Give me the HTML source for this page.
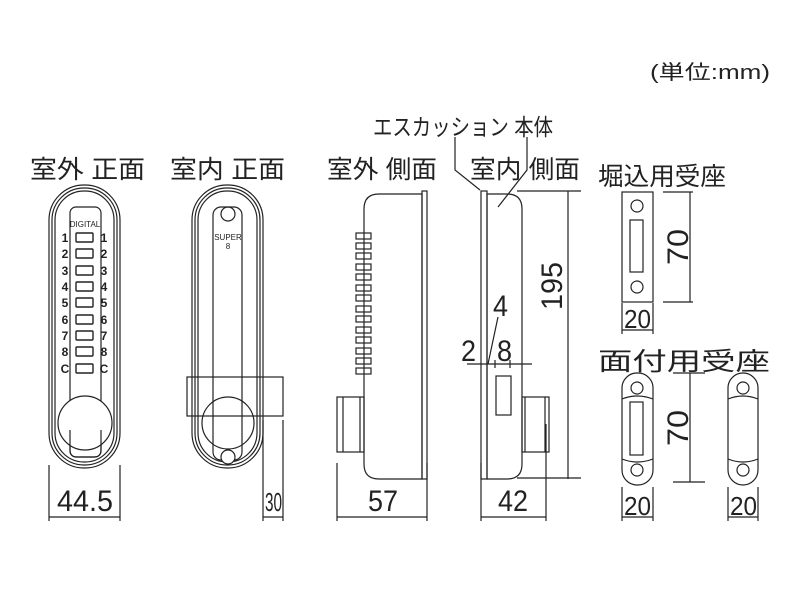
<!DOCTYPE html>
<html><head><meta charset="utf-8"><style>html,body{margin:0;padding:0;background:#fff}svg{display:block}</style></head><body>
<svg width="800" height="600" viewBox="0 0 800 600" xmlns="http://www.w3.org/2000/svg" font-family="'Liberation Sans','Noto Sans CJK JP',sans-serif">
<g fill="none" stroke="#222" stroke-width="1.2">
<!-- exterior front -->
<rect x="49" y="185" width="71" height="283" rx="35"/>
<rect x="52" y="188" width="65" height="277" rx="32"/>
<rect x="55" y="191" width="59" height="271" rx="29"/>
<rect x="70" y="207" width="31" height="250" rx="6"/>
<g stroke-width="1.4">
<rect x="76" y="233" width="17" height="9" rx="1"/><rect x="76" y="249" width="17" height="9" rx="1"/><rect x="76" y="266" width="17" height="9" rx="1"/><rect x="76" y="282" width="17" height="9" rx="1"/><rect x="76" y="298" width="17" height="9" rx="1"/><rect x="76" y="315" width="17" height="9" rx="1"/><rect x="76" y="331" width="17" height="9" rx="1"/><rect x="76" y="347" width="17" height="9" rx="1"/><rect x="76" y="364" width="17" height="9" rx="1"/>
</g>
<circle cx="85" cy="423" r="27" fill="#fff"/>
<path d="M70 430 V450 Q70 457 77 457 H94 Q101 457 101 450 V430"/>
<path d="M49 465 V521 M120 465 V521 M49 517 H120"/>
<!-- interior front -->
<rect x="192" y="185" width="71" height="283" rx="35"/>
<rect x="195" y="188" width="65" height="277" rx="32"/>
<rect x="198" y="191" width="59" height="271" rx="29"/>
<rect x="213" y="207" width="29" height="253" rx="8"/>
<circle cx="228" cy="214" r="7"/>
<circle cx="228" cy="423" r="26"/>
<circle cx="228" cy="457" r="7" fill="#fff"/>
<rect x="187" y="377" width="96" height="39"/>
<path d="M263 420 V521 M283 420 V521 M263 517 H283"/>
<!-- exterior side -->
<path d="M422 194 H379 Q364 194 364 209 V464 Q364 479 379 479 H422 Z"/>
<rect x="422" y="191" width="5" height="288"/>
<g>
<rect x="356" y="233" width="15" height="6"/><rect x="356" y="243" width="15" height="6"/><rect x="356" y="253" width="15" height="6"/><rect x="356" y="264" width="15" height="6"/><rect x="356" y="274" width="15" height="6"/><rect x="356" y="285" width="15" height="6"/><rect x="356" y="295" width="15" height="6"/><rect x="356" y="306" width="15" height="6"/><rect x="356" y="316" width="15" height="6"/><rect x="356" y="327" width="15" height="6"/><rect x="356" y="337" width="15" height="6"/><rect x="356" y="348" width="15" height="6"/><rect x="356" y="358" width="15" height="6"/><rect x="356" y="368" width="15" height="6"/>
</g>
<rect x="337" y="397" width="27" height="55"/>
<path d="M343 397 V452 M360 397 V452"/>
<path d="M337 463 V521 M427 463 V521 M337 517 H427"/>
<!-- interior side -->
<rect x="481" y="191" width="6" height="288"/>
<path d="M487 194 H507 Q522 194 522 209 V464 Q522 479 507 479 H487 Z"/>
<rect x="522" y="397" width="27" height="55"/>
<path d="M525 397 V452 M545 397 V452"/>
<rect x="496" y="376" width="15" height="39"/>
<path d="M467 364 H532 M495 360 V368 M510 360 V368 M498 317 L488 364"/>
<path d="M481 463 V521 M546 424 V521 M481 517 H546"/>
<path d="M568 191 V479 M517 191 H581 M517 478 H581"/>
<path d="M455 137 V170 L480 190 M527 137 V170 L498 207"/>
<!-- plate 1 -->
<rect x="622" y="192" width="31" height="110"/>
<circle cx="637" cy="206" r="6"/><circle cx="637" cy="287" r="6"/>
<rect x="630" y="220" width="13" height="52"/>
<path d="M690 192 V302 M663 192 H693 M663 302 H693 M622 303 V334 M653 303 V334 M622 330 H653"/>
<!-- plate 2 -->
<rect x="622" y="373" width="31" height="112" rx="15"/>
<circle cx="637" cy="388" r="6"/><circle cx="637" cy="470" r="6"/>
<rect x="630" y="402" width="13" height="53"/>
<path d="M622 399 Q637 393 653 399 M622 459 Q637 465 653 459"/>
<path d="M690 373 V482 M673 373 H705 M673 482 H705 M622 487 V521 M653 487 V521 M622 517 H653"/>
<!-- plate 3 -->
<rect x="728" y="373" width="30" height="112" rx="15"/>
<circle cx="743" cy="388" r="6"/><circle cx="743" cy="470" r="6"/>
<path d="M728 399 Q743 393 758 399 M728 459 Q743 465 758 459"/>
<path d="M728 487 V521 M758 487 V521 M728 517 H758"/>
</g>
<g fill="#222">
<text x="650" y="79" font-size="20" textLength="120" lengthAdjust="spacingAndGlyphs">(単位:mm)</text>
<text x="30" y="178" font-size="25" textLength="115" lengthAdjust="spacingAndGlyphs">室外 正面</text>
<text x="170" y="178" font-size="25" textLength="115" lengthAdjust="spacingAndGlyphs">室内 正面</text>
<text x="327" y="178" font-size="25" textLength="110" lengthAdjust="spacingAndGlyphs">室外 側面</text>
<text x="470" y="178" font-size="25" textLength="110" lengthAdjust="spacingAndGlyphs">室内 側面</text>
<text x="373" y="135" font-size="23" textLength="180" lengthAdjust="spacingAndGlyphs">エスカッション 本体</text>
<text x="598" y="185" font-size="25" textLength="128" lengthAdjust="spacingAndGlyphs">堀込用受座</text>
<text x="598" y="370" font-size="25" textLength="172" lengthAdjust="spacingAndGlyphs">面付用受座</text>
<g font-size="12" font-weight="bold" text-anchor="middle">
<text x="65" y="242">1</text><text x="104" y="242">1</text>
<text x="65" y="258">2</text><text x="104" y="258">2</text>
<text x="65" y="275">3</text><text x="104" y="275">3</text>
<text x="65" y="291">4</text><text x="104" y="291">4</text>
<text x="65" y="307">5</text><text x="104" y="307">5</text>
<text x="65" y="324">6</text><text x="104" y="324">6</text>
<text x="65" y="340">7</text><text x="104" y="340">7</text>
<text x="65" y="356">8</text><text x="104" y="356">8</text>
<text x="65" y="373">C</text><text x="104" y="373">C</text>
</g>
<text x="85" y="227" font-size="8" text-anchor="middle">DIGITAL</text>
<text x="228" y="240" font-size="8" text-anchor="middle">SUPER</text>
<text x="228" y="249" font-size="8" text-anchor="middle">8</text>
<g font-size="30">
<text x="57" y="511" textLength="56" lengthAdjust="spacingAndGlyphs">44.5</text>
<text x="265" y="511" font-size="26" textLength="17" lengthAdjust="spacingAndGlyphs">30</text>
<text x="368" y="511" textLength="30" lengthAdjust="spacingAndGlyphs">57</text>
<text x="498" y="511" textLength="30" lengthAdjust="spacingAndGlyphs">42</text>
<text x="493" y="316" textLength="15" lengthAdjust="spacingAndGlyphs">4</text>
<text x="461" y="361" textLength="15" lengthAdjust="spacingAndGlyphs">2</text>
<text x="497" y="361" textLength="15" lengthAdjust="spacingAndGlyphs">8</text>
<text transform="translate(562,310) rotate(-90)" textLength="48" lengthAdjust="spacingAndGlyphs">195</text>
<text transform="translate(688,265) rotate(-90)" textLength="36" lengthAdjust="spacingAndGlyphs">70</text>
<text transform="translate(688,446) rotate(-90)" textLength="36" lengthAdjust="spacingAndGlyphs">70</text>
<text x="624" y="328" font-size="26" textLength="27" lengthAdjust="spacingAndGlyphs">20</text>
<text x="624" y="515" font-size="26" textLength="27" lengthAdjust="spacingAndGlyphs">20</text>
<text x="730" y="515" font-size="26" textLength="27" lengthAdjust="spacingAndGlyphs">20</text>
</g>
</g>
</svg>
</body></html>
